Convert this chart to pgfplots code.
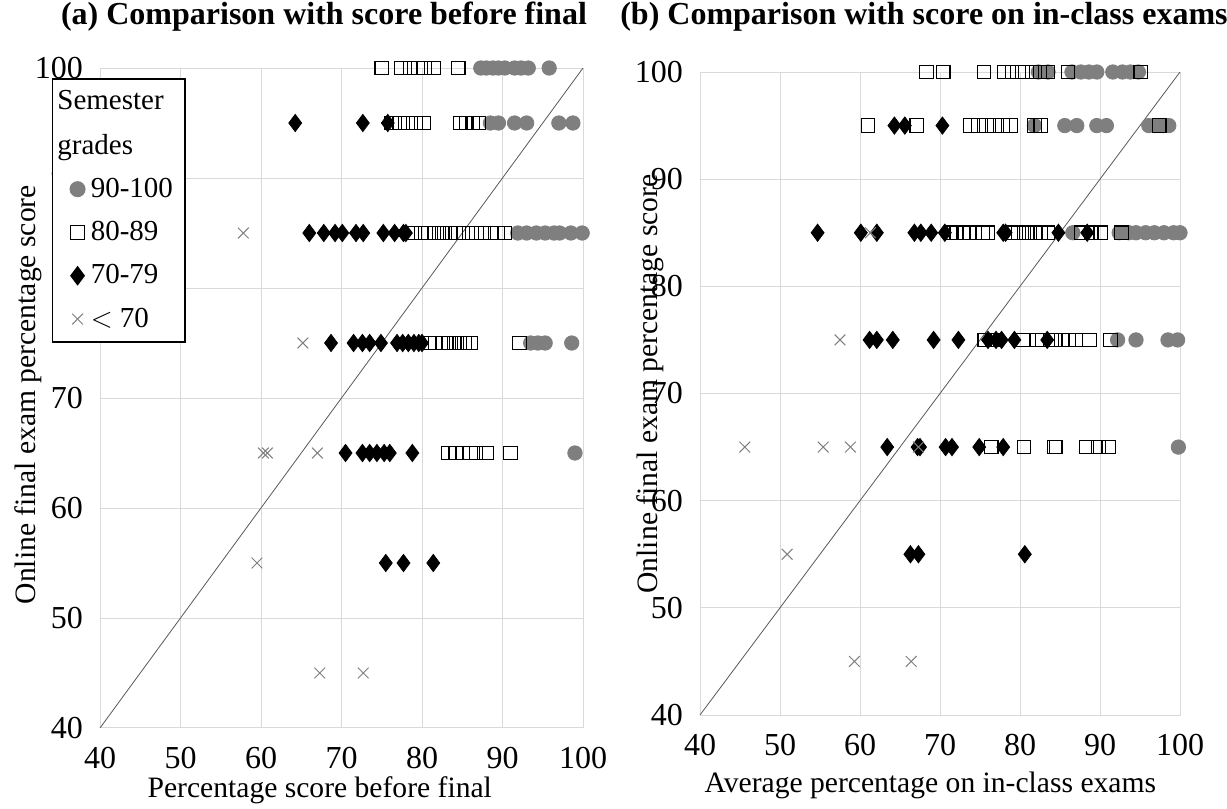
\documentclass[border=0pt]{standalone}
\usepackage{pgfplots}
\pgfplotsset{compat=1.18}
\usepackage{fontspec}
\setmainfont{Liberation Serif}
\definecolor{cdot}{HTML}{7F7F7F}
\definecolor{cgrid}{HTML}{D9D9D9}
\begin{document}
\begin{tikzpicture}
\path[use as bounding box, fill=white] (0,0) rectangle (613.5pt,404.5pt);
\pgfplotsset{
  panel/.style={
    anchor=south west, scale only axis,
    xmin=40, xmax=100, ymin=40, ymax=100,
    xtick={40,50,...,100}, ytick={40,50,...,100},
    grid=major, grid style={cgrid, line width=0.5pt},
    axis line style={cgrid, line width=0.5pt},
    major tick length=0pt,
    tick label style={font=\fontsize{16}{17}\selectfont},
    xticklabel style={yshift=-6pt},
    yticklabel style={xshift=-5pt},
    /pgf/number format/assume math mode=true,
    label style={font=\fontsize{14.8}{16}\selectfont},
    clip=false},
  g1/.style={only marks, mark=*, mark size=3.6pt, color=cdot},
  g2/.style={only marks, mark=square, mark size=3.4pt, black, mark options={line width=0.6pt}},
  g3/.style={only marks, mark=diamond*, mark size=4.3pt, black},
  g4/.style={only marks, mark=x, mark size=3.8pt, cdot, mark options={line width=0.5pt}},
  diag/.style={black!65, line width=0.4pt, forget plot}
}
%% (a)
\begin{axis}[panel, at={(50pt,40.5pt)}, width=241.5pt, height=330pt,
    xlabel={Percentage score before final},
    ylabel={Online final exam percentage score},
    xlabel style={at={(axis description cs:0.455,-0.094)}, anchor=center},
    ylabel style={at={(axis description cs:-0.149,0.505)}, anchor=center},
    legend cell align=left,
    legend style={at={(-0.1,0.985)}, anchor=north west, draw=black, line width=0.8pt,
      fill=white, font=\fontsize{14.5}{16}\selectfont, row sep=6.5pt, inner sep=4pt,
      /tikz/every odd column/.append style={column sep=1pt}}]
  \addplot[diag] coordinates {(40,40) (100,100)};
  \addlegendimage{empty legend}\addlegendentry{\hspace{-1.15em}Semester}
  \addlegendimage{empty legend}\addlegendentry{\hspace{-1.15em}grades}
  \addplot[g1] coordinates {
    (87.3,100) (88.0,100) (88.8,100) (89.5,100) (90.3,100) (91.5,100) (92.3,100) (93.2,100) (95.8,100)
    (88.5,95) (89.5,95) (91.5,95) (93.0,95) (97.0,95) (98.75,95)
    (91.9,85) (93.0,85) (94.2,85) (95.3,85) (96.4,85) (97.1,85) (98.5,85) (99.9,85)
    (93.5,75) (94.4,75) (95.3,75) (98.6,75)
    (99.0,65)};
  \addlegendentry{90-100}
  \addplot[g2] coordinates {
    (75.0,100) (77.4,100) (78.5,100) (79.5,100) (80.3,100) (81.5,100) (84.5,100)
    (76.25,95) (77.25,95) (78.25,95) (79.25,95) (80.25,95) (84.75,95) (85.5,95) (86.25,95) (87.0,95)
    (78.7,85) (79.9,85) (80.8,85) (81.5,85) (82.1,85) (82.8,85) (83.5,85) (84.2,85) (85.1,85)
    (86.2,85) (87.4,85) (88.5,85) (89.4,85) (90.3,85)
    (80.8,75) (81.7,75) (82.6,75) (83.3,75) (84.0,75) (84.7,75) (85.3,75) (86.0,75) (92.1,75)
    (83.3,65) (84.2,65) (85.1,65) (86.0,65) (86.7,65) (88.0,65) (91.0,65)};
  \addlegendentry{80-89}
  \addplot[g3] coordinates {
    (64.25,95) (72.65,95) (75.75,95)
    (66.0,85) (67.8,85) (69.2,85) (70.1,85) (71.8,85) (72.7,85) (75.2,85) (76.6,85) (77.7,85) (78.0,85)
    (68.7,75) (71.5,75) (72.6,75) (73.5,75) (74.9,75) (76.9,75) (77.6,75) (78.3,75) (79.0,75) (79.6,75) (80.0,75)
    (70.5,65) (72.6,65) (73.5,65) (74.4,65) (75.3,65) (76.0,65) (78.8,65)
    (75.5,55) (77.7,55) (81.4,55)};
  \addlegendentry{70-79}
  \addplot[g4] coordinates {
    (57.8,85) (65.2,75) (60.3,65) (60.8,65) (67.0,65) (59.5,55) (67.3,45) (72.7,45)};
  \addlegendentry{$<$ 70}
\end{axis}
%% (b)
\begin{axis}[panel, at={(350pt,47pt)}, width=240pt, height=321.5pt,
    xlabel={Average percentage on in-class exams},
    ylabel={Online final exam percentage score},
    xlabel style={at={(axis description cs:0.48,-0.109)}, anchor=center},
    ylabel style={at={(axis description cs:-0.104,0.515)}, anchor=center}]
  \addplot[diag] coordinates {(40,40) (100,100)};
  \addplot[g1] coordinates {
    (82.3,100) (83.5,100) (86.5,100) (87.6,100) (88.6,100) (89.6,100) (91.6,100) (92.8,100) (93.8,100) (94.8,100)
    (81.8,95) (85.6,95) (87.1,95) (89.6,95) (90.8,95) (96.1,95) (96.9,95) (97.9,95) (98.6,95)
    (86.6,85) (92.4,85) (93.6,85) (94.5,85) (95.7,85) (96.8,85) (98.0,85) (99.2,85) (100,85)
    (92.2,75) (94.5,75) (98.5,75) (99.7,75)
    (99.8,65)};
  \addplot[g2] coordinates {
    (68.3,100) (70.4,100) (75.5,100) (78.0,100) (79.0,100) (80.3,100) (81.5,100) (82.5,100) (83.5,100) (86.0,100) (95.1,100)
    (61.0,95) (67.1,95) (73.8,95) (74.8,95) (75.8,95) (76.8,95) (77.8,95) (78.8,95) (81.8,95) (82.6,95) (97.4,95)
    (71.4,85) (72.1,85) (72.9,85) (73.7,85) (75.3,85) (76.0,85) (79.1,85) (79.8,85) (80.5,85) (81.2,85)
    (81.9,85) (82.6,85) (83.5,85) (87.7,85) (88.9,85) (90.1,85) (92.7,85)
    (75.6,75) (76.6,75) (80.4,75) (82.1,75) (82.8,75) (84.0,75) (85.2,75) (86.1,75) (87.0,75) (88.7,75) (91.3,75)
    (76.4,65) (80.5,65) (84.3,65) (84.5,65) (88.3,65) (89.8,65) (91.1,65)};
  \addplot[g3] coordinates {
    (64.3,95) (65.6,95) (70.3,95)
    (54.7,85) (60.1,85) (62.1,85) (66.8,85) (67.6,85) (68.9,85) (70.6,85) (77.9,85) (78.2,85) (84.8,85) (88.4,85)
    (61.2,75) (62.1,75) (64.1,75) (69.2,75) (72.3,75) (76.0,75) (77.0,75) (77.7,75) (79.3,75) (83.4,75)
    (63.4,65) (67.2,65) (67.5,65) (70.7,65) (71.5,65) (74.9,65) (77.9,65)
    (66.3,55) (67.3,55) (80.6,55)};
  \addplot[g4] coordinates {
    (61.3,85) (57.5,75) (45.6,65) (55.4,65) (58.8,65) (67.3,65) (50.9,55) (59.3,45) (66.4,45)};
\end{axis}
\node[font=\bfseries\fontsize{16}{18}\selectfont] at (162pt,396pt) {(a) Comparison with score before final};
\node[font=\bfseries\fontsize{16}{18}\selectfont] at (462pt,396pt) {(b) Comparison with score on in-class exams};
\end{tikzpicture}
\end{document}
